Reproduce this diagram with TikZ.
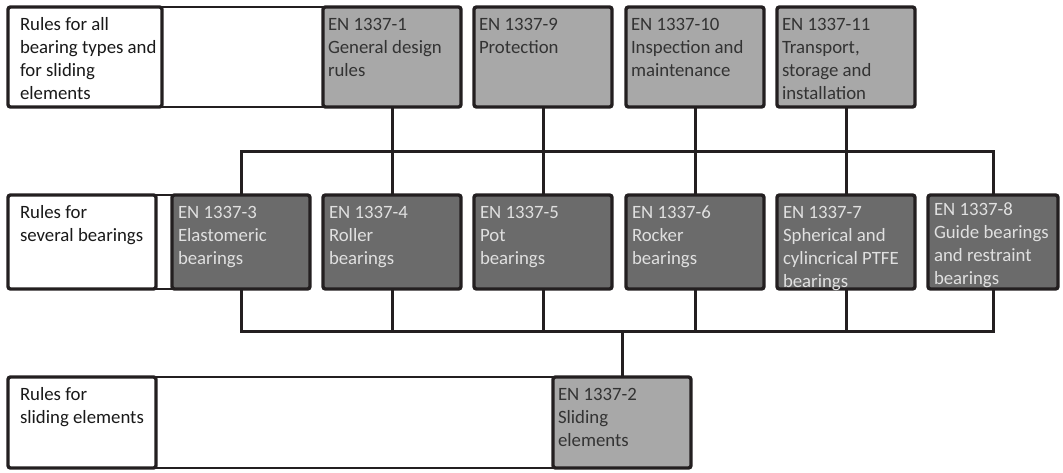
\documentclass[tikz,border=0pt]{standalone}
\usepackage{fontspec}
\setmainfont{Carlito}
\definecolor{ruleline}{HTML}{231F20}
\definecolor{lightgrey}{HTML}{A8A8A8}
\definecolor{darkgrey}{HTML}{6B6B6B}
\newcommand{\cell}[3]{\parbox[c][#2pt][t]{#1pt}{\begin{tabular}[t]{@{}l@{}}#3\end{tabular}}}
\begin{document}
\begin{tikzpicture}[x=1pt,y=-1pt]
      \tikzstyle{every node}+=[font=\fontsize{18.8}{22.8}\selectfont, anchor=north west, outer sep=0pt]
      \tikzstyle{frame}=[draw=ruleline, line width=3.4pt, rounded corners=2.5pt, inner ysep=8pt]
      \tikzstyle{rulebox}=[frame, fill=white, text=black!90, inner xsep=12pt]
      \tikzstyle{partbox}=[frame, fill=lightgrey, text=black!80, inner xsep=5pt]
      \tikzstyle{bearbox}=[frame, fill=darkgrey, text=white!88!black, inner xsep=6pt]
      \tikzstyle{band}=[draw=ruleline, line width=1.4pt]
      \tikzstyle{wire}=[draw=ruleline, line width=3pt]
      \useasboundingbox (0,0) rectangle (1063,473);
      % general parts
      \node [rulebox] (lab1) at (8,7) {\cell{130}{84}{Rules for all\\bearing types and\\for sliding\\elements}};
      \node [partbox] (en1) at (323,7) {\cell{128}{84}{EN 1337-1\\General design\\rules}};
      \node [partbox] (en9) at (474,7) {\cell{128}{84}{EN 1337-9\\Protection}};
      \node [partbox] (en10) at (626,7) {\cell{128}{84}{EN 1337-10\\Inspection and\\maintenance}};
      \node [partbox] (en11) at (777,7) {\cell{128}{84}{EN 1337-11\\Transport,\\storage and\\installation}};
      \draw [band] (lab1.north east) rectangle (en1.south west);
      % bearing parts
      \node [rulebox] (lab2) at (8,195) {\cell{124}{78}{Rules for\\several bearings}};
      \node [bearbox] (en3) at (172,195) {\cell{126}{78}{EN 1337-3\\Elastomeric\\bearings}};
      \node [bearbox] (en4) at (323,195) {\cell{126}{78}{EN 1337-4\\Roller\\bearings}};
      \node [bearbox] (en5) at (474,195) {\cell{126}{78}{EN 1337-5\\Pot\\bearings}};
      \node [bearbox] (en6) at (626,195) {\cell{126}{78}{EN 1337-6\\Rocker\\bearings}};
      \node [bearbox] (en7) at (777,195) {\cell{126}{78}{EN 1337-7\\Spherical and\\cylincrical PTFE\\bearings}};
      \node [bearbox, inner ysep=5pt] (en8) at (928,195) {\cell{118}{84}{EN 1337-8\\Guide bearings\\and restraint\\bearings}};
      \draw [band] (lab2.north east) rectangle (en3.south west);
      % sliding parts
      \node [rulebox] (lab3) at (8,377) {\cell{124}{75}{Rules for\\sliding elements}};
      \node [partbox] (en2) at (553,377) {\cell{128}{75}{EN 1337-2\\Sliding\\elements}};
      \draw [band] (lab3.north east) rectangle (en2.south west);
      % connectors
      \draw [wire] (en3.north) -- ++(0,-43) -| (en8.north);
      \draw [wire] (en1.south) -- (en4.north);
      \draw [wire] (en9.south) -- (en5.north);
      \draw [wire] (en10.south) -- (en6.north);
      \draw [wire] (en11.south) -- (en7.north);
      \draw [wire] (en3.south) -- ++(0,42) -| (en8.south);
      \draw [wire] (en4.south) -- ++(0,42);
      \draw [wire] (en5.south) -- ++(0,42);
      \draw [wire] (en6.south) -- ++(0,42);
      \draw [wire] (en7.south) -- ++(0,42);
      \draw [wire] (en2.north) -- ++(0,-46);
\end{tikzpicture}
\end{document}
